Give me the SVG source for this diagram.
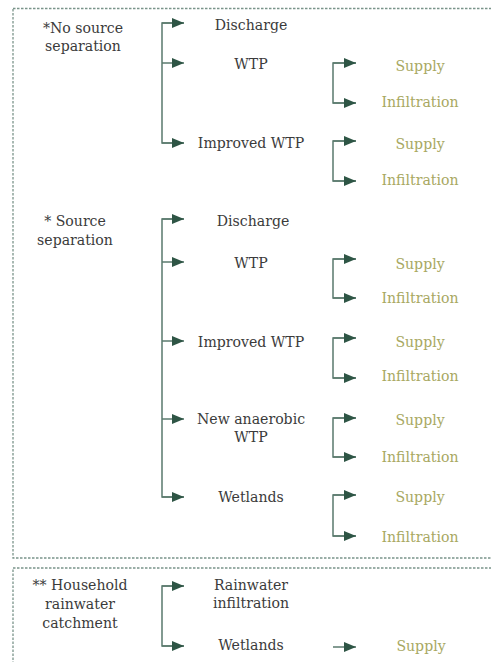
<svg xmlns="http://www.w3.org/2000/svg" width="491" height="662" viewBox="0 0 491 662">
<defs>
<style>
.box{fill:none;stroke:#7a948a;stroke-width:1.3;stroke-dasharray:2.5 1.5}
.stem{fill:none;stroke:#5a7a6e;stroke-width:1.5}
.head{fill:#2e5545}
text{font-family:"DejaVu Serif","Liberation Serif",serif;font-size:14.1px;text-anchor:middle;dominant-baseline:central}
.t{fill:#3b3b3b}
.o{fill:#a8a862}
</style>
<marker id="ah" viewBox="0 0 12 10" refX="12" refY="5" markerWidth="12" markerHeight="10" markerUnits="userSpaceOnUse" orient="auto">
<path d="M0,0 L12,5 L0,10 Z" class="head"/>
</marker>
</defs>
<rect class="box" x="13" y="8.5" width="500" height="549.5"/>
<rect class="box" x="13" y="568" width="500" height="120"/>
<g id="connectors">
<path class="stem" d="M184,23 H162 V143 H184"/>
<path class="stem" d="M162,23 H184" marker-end="url(#ah)"/>
<path class="stem" d="M162,63 H184" marker-end="url(#ah)"/>
<path class="stem" d="M162,143 H184" marker-end="url(#ah)"/>
<path class="stem" d="M356,63 H333 V103 H356"/>
<path class="stem" d="M333,63 H356" marker-end="url(#ah)"/>
<path class="stem" d="M333,103 H356" marker-end="url(#ah)"/>
<path class="stem" d="M356,141 H333 V181 H356"/>
<path class="stem" d="M333,141 H356" marker-end="url(#ah)"/>
<path class="stem" d="M333,181 H356" marker-end="url(#ah)"/>
<path class="stem" d="M184,219 H162 V497 H184"/>
<path class="stem" d="M162,219 H184" marker-end="url(#ah)"/>
<path class="stem" d="M162,262 H184" marker-end="url(#ah)"/>
<path class="stem" d="M162,341 H184" marker-end="url(#ah)"/>
<path class="stem" d="M162,419 H184" marker-end="url(#ah)"/>
<path class="stem" d="M162,497 H184" marker-end="url(#ah)"/>
<path class="stem" d="M356,259 H333 V298 H356"/>
<path class="stem" d="M333,259 H356" marker-end="url(#ah)"/>
<path class="stem" d="M333,298 H356" marker-end="url(#ah)"/>
<path class="stem" d="M356,338 H333 V378 H356"/>
<path class="stem" d="M333,338 H356" marker-end="url(#ah)"/>
<path class="stem" d="M333,378 H356" marker-end="url(#ah)"/>
<path class="stem" d="M356,418 H333 V457 H356"/>
<path class="stem" d="M333,418 H356" marker-end="url(#ah)"/>
<path class="stem" d="M333,457 H356" marker-end="url(#ah)"/>
<path class="stem" d="M356,495 H333 V536 H356"/>
<path class="stem" d="M333,495 H356" marker-end="url(#ah)"/>
<path class="stem" d="M333,536 H356" marker-end="url(#ah)"/>
<path class="stem" d="M184,586 H162 V646 H184"/>
<path class="stem" d="M162,586 H184" marker-end="url(#ah)"/>
<path class="stem" d="M162,646 H184" marker-end="url(#ah)"/>
<path class="stem" d="M333,647 H356" marker-end="url(#ah)"/>
</g>
<g id="no-source"><text class="t" x="83" y="28">*No source</text><text class="t" x="83" y="46">separation</text></g>
<g id="n1-discharge"><text class="t" x="251" y="25">Discharge</text></g>
<g id="n1-wtp"><text class="t" x="251" y="64">WTP</text></g>
<g id="n1-improved"><text class="t" x="251" y="143">Improved WTP</text></g>
<g id="n1-wtp-supply"><text class="o" x="420" y="66">Supply</text></g>
<g id="n1-wtp-infil"><text class="o" x="420" y="102">Infiltration</text></g>
<g id="n1-imp-supply"><text class="o" x="420" y="144">Supply</text></g>
<g id="n1-imp-infil"><text class="o" x="420" y="180">Infiltration</text></g>

<g id="source"><text class="t" x="75" y="221">* Source</text><text class="t" x="75" y="240">separation</text></g>
<g id="n2-discharge"><text class="t" x="253" y="221">Discharge</text></g>
<g id="n2-wtp"><text class="t" x="251" y="263">WTP</text></g>
<g id="n2-improved"><text class="t" x="251" y="342">Improved WTP</text></g>
<g id="n2-anaerobic"><text class="t" x="251" y="419">New anaerobic</text><text class="t" x="251" y="437">WTP</text></g>
<g id="n2-wetlands"><text class="t" x="251" y="497">Wetlands</text></g>
<g id="n2-wtp-supply"><text class="o" x="420" y="264">Supply</text></g>
<g id="n2-wtp-infil"><text class="o" x="420" y="298">Infiltration</text></g>
<g id="n2-imp-supply"><text class="o" x="420" y="342">Supply</text></g>
<g id="n2-imp-infil"><text class="o" x="420" y="376">Infiltration</text></g>
<g id="n2-ana-supply"><text class="o" x="420" y="420">Supply</text></g>
<g id="n2-ana-infil"><text class="o" x="420" y="457">Infiltration</text></g>
<g id="n2-wet-supply"><text class="o" x="420" y="497">Supply</text></g>
<g id="n2-wet-infil"><text class="o" x="420" y="537">Infiltration</text></g>

<g id="household"><text class="t" x="80" y="585">** Household</text><text class="t" x="80" y="604">rainwater</text><text class="t" x="80" y="623">catchment</text></g>
<g id="n3-rain"><text class="t" x="251" y="585">Rainwater</text><text class="t" x="251" y="603">infiltration</text></g>
<g id="n3-wetlands"><text class="t" x="251" y="645">Wetlands</text></g>
<g id="n3-supply"><text class="o" x="421" y="646">Supply</text></g>
</svg>
